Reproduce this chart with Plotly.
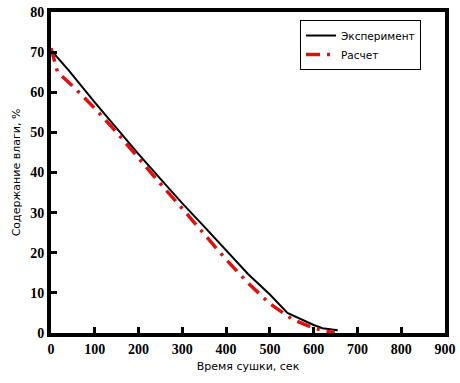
import plotly.graph_objects as go

# Data
exp_time = [0, 40, 100, 150, 200, 250, 300, 350, 400, 450, 500, 540, 600, 620, 655]
exp_moisture = [70.5, 65.5, 57.5, 51.0, 44.6, 38.4, 32.3, 26.5, 20.6, 14.7, 9.6, 5.0, 2.0, 1.2, 0.7]

calc_time = [0, 15, 50, 100, 150, 200, 250, 300, 350, 400, 450, 500, 550, 600, 648]
calc_moisture = [71.0, 65.0, 61.5, 56.0, 50.0, 43.5, 37.2, 31.0, 24.7, 18.3, 12.5, 7.3, 3.5, 1.2, 0.0]

x_ticks = [0, 100, 200, 300, 400, 500, 600, 700, 800, 900]
y_ticks = [0, 10, 20, 30, 40, 50, 60, 70, 80]

fig = go.Figure()
fig.add_trace(go.Scatter(x=exp_time, y=exp_moisture, mode="lines", name="Эксперимент",
                         line=dict(color="black", width=2)))
fig.add_trace(go.Scatter(x=calc_time, y=calc_moisture, mode="lines", name="Расчет",
                         line=dict(color="#e01010", width=3.5, dash="14px,7px,3px,7px")))

tickfont = dict(family="Liberation Serif", size=14, color="black", weight="bold")
titlefont = dict(family="DejaVu Sans", size=11, color="black")

fig.update_layout(
    width=460, height=383,
    margin=dict(l=51, r=15, t=12, b=50),
    paper_bgcolor="white", plot_bgcolor="white",
    showlegend=True,
    legend=dict(x=0.632, y=0.975, xanchor="left", yanchor="top",
                bordercolor="black", borderwidth=1, bgcolor="white",
                font=dict(family="DejaVu Sans", size=10.5, color="black"),
                tracegroupgap=0, itemwidth=30),
    xaxis=dict(range=[0, 900], tickvals=x_ticks, ticks="inside", ticklen=6, tickwidth=3,
               tickcolor="black", showline=True, linewidth=4, linecolor="black", mirror=True,
               showgrid=False, zeroline=False, tickfont=tickfont, automargin=False,
               title=dict(text="Время сушки, сек", font=titlefont, standoff=8)),
    yaxis=dict(range=[0, 80], tickvals=y_ticks, ticks="inside", ticklen=6, tickwidth=3,
               tickcolor="black", showline=True, linewidth=4, linecolor="black", mirror=True,
               showgrid=False, zeroline=False, tickfont=tickfont, automargin=False,
               title=dict(text="Содержание влаги, %", font=titlefont, standoff=8)),
)

# remove the default 8px page margin so the figure fills the window exactly
fig.write_html("out.html", config={"displayModeBar": False},
               post_script="document.body.style.margin='0';document.body.style.overflow='hidden';")
